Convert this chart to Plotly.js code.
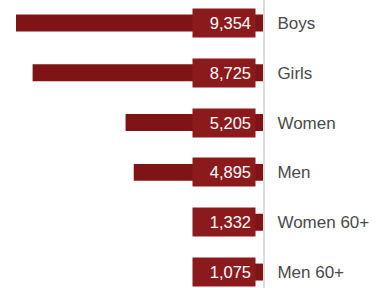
<!DOCTYPE html>
<html>
<head>
<meta charset="utf-8">
<script src="https://cdn.plot.ly/plotly-3.0.1.min.js"></script>
<style>html,body{margin:0;padding:0;background:#fff;}#chart{width:379px;height:288px;}</style>
</head>
<body>
<div id="chart"></div>
<script>
const categories = ["Boys", "Girls", "Women", "Men", "Women 60+", "Men 60+"];
const values = [9354, 8725, 5205, 4895, 1332, 1075];
const valueLabels = ["9,354", "8,725", "5,205", "4,895", "1,332", "1,075"];

const trace = {
  type: 'bar',
  orientation: 'h',
  x: values,
  y: categories,
  width: 0.34,
  marker: {color: '#7e1416'},
  hoverinfo: 'none'
};

const annotations = categories.map((c, i) => ({
  x: 0, y: c, xref: 'x', yref: 'y',
  text: valueLabels[i],
  showarrow: false,
  xanchor: 'right', yanchor: 'middle',
  xshift: -7,
  width: 54, height: 20,
  align: 'right',
  bgcolor: '#8b1a1c',
  borderpad: 4,
  font: {family: 'Liberation Sans, Arial, sans-serif', size: 16.5, color: '#ffffff'}
}));

const layout = {
  width: 379, height: 288,
  margin: {l: 0, r: 116, t: 0, b: 0},
  paper_bgcolor: '#ffffff',
  plot_bgcolor: '#ffffff',
  showlegend: false,
  xaxis: {range: [9960, 0], showgrid: false, zeroline: false, showticklabels: false, showline: false, fixedrange: true},
  yaxis: {
    type: 'category',
    range: [5.32, -0.46],
    side: 'right',
    showgrid: false, zeroline: false,
    showline: true, linecolor: '#dcdcdc', linewidth: 2,
    ticks: 'outside', ticklen: 9, tickcolor: 'rgba(0,0,0,0)',
    tickfont: {family: 'Liberation Sans, Arial, sans-serif', size: 17, color: '#4a4a4a'}
  },
  annotations: annotations
};

Plotly.newPlot('chart', [trace], layout, {displayModeBar: false, staticPlot: true});
</script>
</body>
</html>
